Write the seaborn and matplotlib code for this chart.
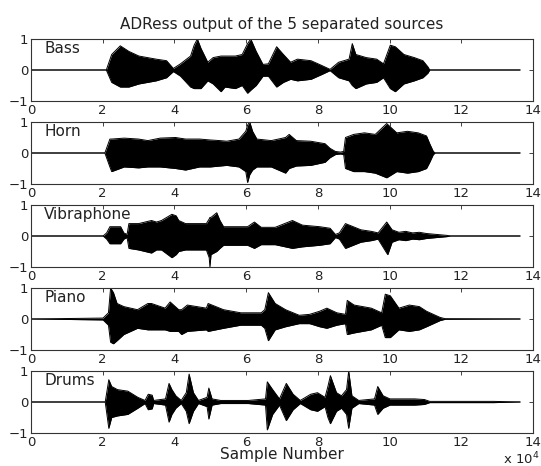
import numpy as np
import matplotlib
matplotlib.use("Agg")
import matplotlib.pyplot as plt
import seaborn as sns

# envelope of each separated source
# x in units of 1e4 samples, amplitude between -1 and 1
names = ["Bass", "Horn", "Vibraphone", "Piano", "Drums"]
n_samples = 13.64

bass_t  = [0, 2.10, 2.25, 2.49, 2.73, 3.01, 3.49, 3.78, 3.97, 4.17, 4.45, 4.55, 4.64, 4.74, 4.93, 5.08, 5.30, 5.41, 5.70, 5.89, 6.04, 6.13, 6.28, 6.47, 6.62, 6.85, 7.04, 7.24, 7.43, 7.81, 8.10, 8.34, 8.58, 8.87, 8.96, 9.06, 9.35, 9.64, 9.83, 10.02, 10.16, 10.40, 10.69, 10.93, 11.07, 11.12, n_samples]
bass_hi = [0, 0, 0.50, 0.78, 0.60, 0.45, 0.35, 0.30, 0.05, 0.20, 0.45, 0.80, 1.00, 0.70, 0.25, 0.40, 0.45, 0.45, 0.45, 0.50, 0.85, 1.00, 0.60, 0.18, 0.20, 0.75, 0.50, 0.25, 0.35, 0.30, 0.15, 0.02, 0.25, 0.35, 0.85, 0.50, 0.40, 0.35, 0.20, 0.80, 0.75, 0.50, 0.40, 0.30, 0.10, 0, 0]
bass_lo = [0, 0, -0.40, -0.55, -0.55, -0.45, -0.35, -0.25, -0.05, -0.20, -0.55, -0.60, -0.60, -0.60, -0.35, -0.45, -0.70, -0.55, -0.60, -0.50, -0.75, -0.65, -0.50, -0.20, -0.20, -0.55, -0.40, -0.30, -0.35, -0.30, -0.15, -0.02, -0.25, -0.35, -0.50, -0.60, -0.45, -0.40, -0.25, -0.60, -0.70, -0.45, -0.35, -0.25, -0.10, 0, 0]

horn_t  = [0, 2.06, 2.20, 2.25, 2.60, 3.00, 3.26, 3.60, 4.03, 4.31, 4.70, 5.00, 5.27, 5.46, 5.80, 5.99, 6.04, 6.10, 6.18, 6.30, 6.70, 7.10, 7.20, 7.40, 7.80, 8.20, 8.34, 8.49, 8.63, 8.72, 8.77, 9.00, 9.30, 9.60, 9.92, 10.20, 10.50, 10.80, 11.03, 11.12, 11.22, 11.27, n_samples]
horn_hi = [0, 0, 0.45, 0.45, 0.48, 0.45, 0.40, 0.48, 0.50, 0.45, 0.45, 0.42, 0.40, 0.38, 0.45, 0.70, 0.90, 1.00, 0.70, 0.45, 0.40, 0.50, 0.60, 0.40, 0.38, 0.30, 0.15, 0.05, 0.03, 0.05, 0.50, 0.60, 0.65, 0.60, 0.95, 0.65, 0.70, 0.65, 0.55, 0.30, 0.05, 0, 0]
horn_lo = [0, 0, -0.45, -0.60, -0.45, -0.48, -0.45, -0.45, -0.50, -0.55, -0.45, -0.45, -0.42, -0.40, -0.45, -0.60, -0.95, -0.70, -0.55, -0.45, -0.45, -0.65, -0.50, -0.42, -0.40, -0.30, -0.15, -0.05, -0.03, -0.05, -0.50, -0.60, -0.60, -0.65, -0.80, -0.60, -0.65, -0.60, -0.50, -0.30, -0.05, 0, 0]

vib_t  = [0, 2.01, 2.11, 2.20, 2.50, 2.59, 2.68, 2.73, 3.00, 3.36, 3.50, 3.64, 3.93, 4.05, 4.12, 4.31, 4.89, 4.97, 4.99, 5.02, 5.18, 5.27, 5.37, 5.85, 6.04, 6.23, 6.42, 6.81, 7.29, 7.57, 8.05, 8.34, 8.49, 8.60, 8.77, 9.20, 9.49, 9.68, 9.92, 9.95, 10.07, 10.26, 10.45, 10.64, 10.83, 11.03, 11.31, 11.60, 11.70, n_samples]
vib_hi = [0, 0, 0.10, 0.30, 0.30, 0.10, 0.05, 0.40, 0.40, 0.50, 0.45, 0.50, 0.70, 0.65, 0.50, 0.40, 0.40, 0.55, 0.60, 0.60, 0.75, 0.50, 0.30, 0.30, 0.30, 0.45, 0.28, 0.28, 0.50, 0.35, 0.30, 0.25, 0.05, 0.10, 0.40, 0.20, 0.15, 0.10, 0.45, 0.40, 0.20, 0.12, 0.15, 0.10, 0.12, 0.08, 0.05, 0.02, 0, 0]
vib_lo = [0, 0, -0.10, -0.25, -0.25, -0.10, -0.05, -0.40, -0.45, -0.55, -0.45, -0.45, -0.70, -0.60, -0.50, -0.45, -0.45, -0.70, -1.00, -0.60, -0.50, -0.40, -0.30, -0.30, -0.30, -0.40, -0.28, -0.28, -0.40, -0.35, -0.30, -0.25, -0.05, -0.10, -0.40, -0.20, -0.15, -0.10, -0.55, -0.60, -0.20, -0.12, -0.15, -0.10, -0.12, -0.08, -0.05, -0.02, 0, 0]

piano_t  = [0, 2.01, 2.16, 2.22, 2.30, 2.40, 2.59, 2.97, 3.26, 3.36, 3.74, 3.88, 4.12, 4.20, 4.36, 4.89, 4.94, 5.37, 5.85, 6.42, 6.52, 6.62, 6.81, 7.10, 7.48, 7.77, 8.05, 8.25, 8.53, 8.77, 8.82, 9.01, 9.49, 9.78, 9.88, 10.02, 10.26, 10.55, 10.83, 11.03, 11.22, 11.41, 11.55, n_samples]
piano_hi = [0, 0.03, 0.20, 1.00, 0.85, 0.50, 0.40, 0.30, 0.50, 0.50, 0.35, 0.55, 0.30, 0.30, 0.45, 0.35, 0.50, 0.30, 0.20, 0.20, 0.30, 0.85, 0.50, 0.30, 0.12, 0.15, 0.25, 0.35, 0.20, 0.15, 0.60, 0.45, 0.35, 0.20, 0.80, 0.75, 0.35, 0.45, 0.40, 0.25, 0.15, 0.05, 0.01, 0]
piano_lo = [0, -0.03, -0.20, -0.75, -0.80, -0.70, -0.50, -0.30, -0.35, -0.35, -0.35, -0.40, -0.40, -0.50, -0.40, -0.35, -0.40, -0.30, -0.20, -0.20, -0.30, -0.70, -0.35, -0.25, -0.15, -0.15, -0.25, -0.30, -0.20, -0.15, -0.50, -0.45, -0.35, -0.20, -0.60, -0.60, -0.35, -0.40, -0.35, -0.25, -0.15, -0.05, -0.01, 0]

drum_t  = [0, 2.07, 2.17, 2.25, 2.41, 2.70, 2.98, 3.18, 3.27, 3.38, 3.42, 3.75, 3.85, 3.93, 4.04, 4.19, 4.33, 4.41, 4.53, 4.67, 4.91, 4.96, 5.05, 5.29, 5.70, 6.06, 6.54, 6.59, 6.74, 6.93, 7.12, 7.31, 7.51, 7.80, 7.99, 8.20, 8.28, 8.35, 8.52, 8.66, 8.80, 8.86, 8.95, 9.14, 9.58, 9.67, 9.82, 10.01, 10.30, 10.70, 10.97, 11.12, 12.90, n_samples]
drum_hi = [0, 0, 0.72, 0.50, 0.40, 0.35, 0.15, 0.05, 0.25, 0.22, 0.05, 0.10, 0.60, 0.40, 0.20, 0.05, 0.30, 0.90, 0.30, 0.05, 0.15, 0.45, 0.10, 0.05, 0.05, 0.05, 0.10, 0.65, 0.40, 0.10, 0.60, 0.25, 0.05, 0.25, 0.30, 0.15, 0.50, 0.85, 0.30, 0.20, 0.40, 1.00, 0.20, 0.05, 0.10, 0.50, 0.20, 0.10, 0.10, 0.10, 0.08, 0.02, 0.02, 0]
drum_lo = [0, 0, -0.85, -0.50, -0.45, -0.40, -0.20, -0.05, -0.25, -0.22, -0.05, -0.10, -0.65, -0.40, -0.20, -0.05, -0.30, -0.70, -0.30, -0.05, -0.15, -0.55, -0.10, -0.05, -0.05, -0.05, -0.10, -0.90, -0.40, -0.10, -0.60, -0.25, -0.05, -0.25, -0.30, -0.15, -0.50, -0.70, -0.30, -0.20, -0.40, -0.85, -0.20, -0.05, -0.10, -0.40, -0.20, -0.10, -0.10, -0.10, -0.08, -0.02, -0.02, 0]

sources = [(bass_t, bass_hi, bass_lo), (horn_t, horn_hi, horn_lo),
           (vib_t, vib_hi, vib_lo), (piano_t, piano_hi, piano_lo),
           (drum_t, drum_hi, drum_lo)]

sns.set_style("white")
plt.rcParams['font.family'] = ['DejaVu Sans']

txt = "#222222"
fig = plt.figure(figsize=(5.41, 4.66), dpi=100)
W, H = 541, 466
left, right = 31, 533
for i, (name, (t, hi, lo)) in enumerate(zip(names, sources)):
    top = 39 + 83 * i
    ax = fig.add_axes([left / W, 1 - (top + 62) / H, (right - left) / W, 62 / H])
    ax.fill_between(t, lo, hi, color="black", lw=0)
    sns.lineplot(x=t, y=hi, ax=ax, color="black", lw=0.7)
    sns.lineplot(x=t, y=lo, ax=ax, color="black", lw=0.7)
    ax.set_xlim(0, 14)
    ax.set_ylim(-1, 1)
    ax.set_xticks(range(0, 15, 2))
    ax.set_yticks([-1, 0, 1])
    ax.tick_params(direction="in", top=True, right=True, length=3, width=0.6,
                   labelsize=9.5, colors=txt, pad=2)
    for s in ax.spines.values():
        s.set_color("#333333")
        s.set_linewidth(0.8)
    ax.text(0.026, 0.84, name, transform=ax.transAxes, va="center",
            fontsize=11, color=txt)
    ax.set_xlabel("")
    ax.set_ylabel("")
    if i == 0:
        ax.set_title("ADRess output of the 5 separated sources", fontsize=11,
                     color=txt, pad=7)
    if i == len(names) - 1:
        ax.set_xlabel("Sample Number", fontsize=11, color=txt, labelpad=-1)

fig.text(0.93, 0.004, r"x 10$^{4}$", fontsize=9.5, color=txt)
fig.savefig("out.png", dpi=100)
